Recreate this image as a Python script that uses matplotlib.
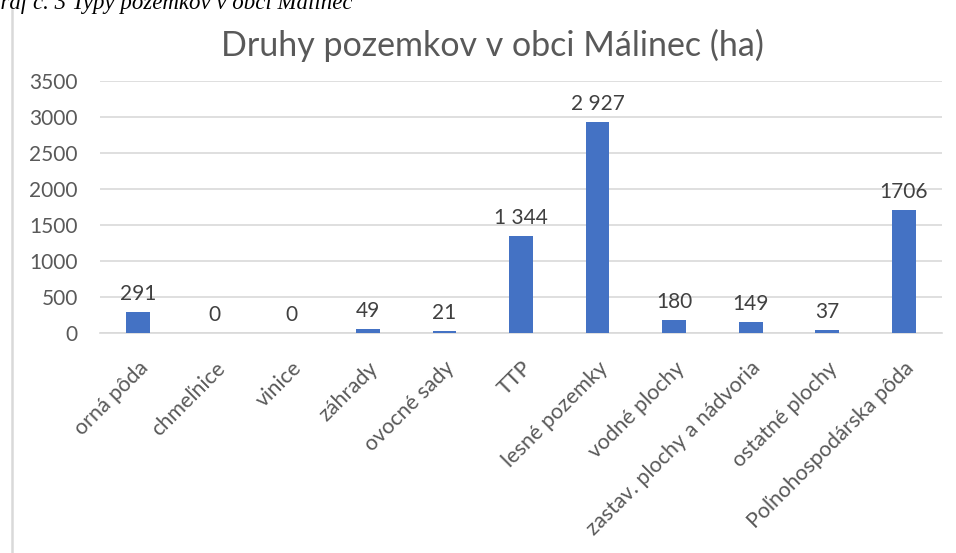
import matplotlib.pyplot as plt
from matplotlib.lines import Line2D

# data
categories = ['orná pôda', 'chmeľnice', 'vinice', 'záhrady', 'ovocné sady', 'TTP',
              'lesné pozemky', 'vodné plochy', 'zastav. plochy a nádvoria',
              'ostatné plochy', 'Poľnohospodárska pôda']
values = [291, 0, 0, 49, 21, 1344, 2927, 180, 149, 37, 1706]
value_labels = ['291', '0', '0', '49', '21', '1 344', '2 927', '180', '149', '37', '1706']
yticks = [0, 500, 1000, 1500, 2000, 2500, 3000, 3500]

plt.rcParams['font.family'] = ['Lato', 'DejaVu Sans']
txt = '#595959'
fs = 15

fig = plt.figure(figsize=(9.56, 5.53), dpi=100)
ax = fig.add_axes([100/956, 1 - 333/553, 842/956, 252/553])

x = range(len(categories))
ax.bar(x, values, width=0.31, color='#4472C4', zorder=3)
for xi, v, lab in zip(x, values, value_labels):
    ax.annotate(lab, (xi, v), xytext=(0, 6), textcoords='offset points',
                ha='center', va='bottom', fontsize=fs, color='#404040')

ax.set_xlim(-0.5, len(categories) - 0.5)
ax.set_ylim(0, 3500)
ax.set_yticks(yticks)
ax.set_yticklabels([str(t) for t in yticks], fontsize=fs, color=txt)
ax.grid(axis='y', color='#d9d9d9', linewidth=1.2, zorder=0)
ax.tick_params(axis='y', length=0, pad=16)
ax.tick_params(axis='x', length=0, pad=18)
ax.set_xticks(list(x))
ax.set_xticklabels(categories, rotation=45, ha='right', rotation_mode='anchor',
                   fontsize=15.5, color=txt)
for s in ['top', 'right', 'left']:
    ax.spines[s].set_visible(False)
ax.spines['bottom'].set_color('#d9d9d9')
ax.spines['bottom'].set_linewidth(1.2)

fig.text(492/956, 1 - 45/553, 'Druhy pozemkov v obci Málinec (ha)', ha='center', va='center',
         fontsize=24.5, color=txt)

# caption clipped at the top of the image
fig.text(-16/956, 1 - 3/553, 'Graf č. 3 Typy pozemkov v obci Málinec', ha='left', va='center',
         fontsize=16.5, style='italic', family=['Liberation Serif', 'DejaVu Serif'], color='black')

# frame line on the left
fig.add_artist(Line2D([12/956, 12/956], [0, 1 - 10/553], color='#d9d9d9', linewidth=1.8))

fig.savefig('out.png', dpi=100)
